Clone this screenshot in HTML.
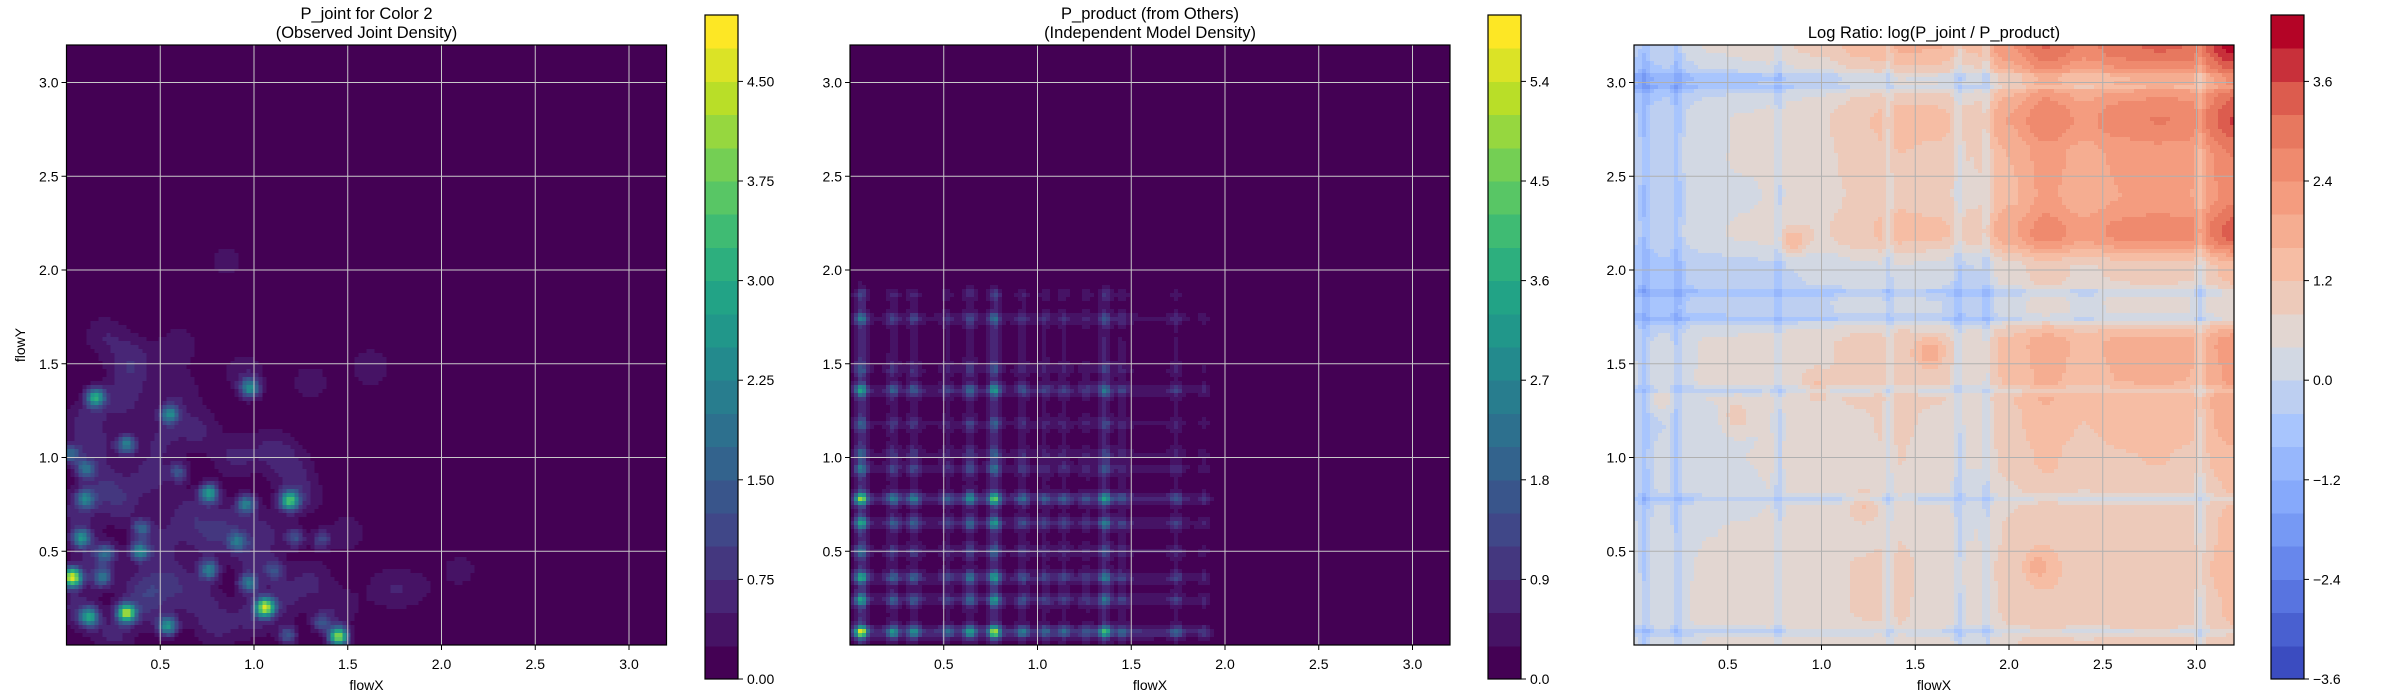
<!DOCTYPE html>
<html><head><meta charset="utf-8">
<style>
html,body{margin:0;padding:0;background:#fff;}
svg{display:block;font-family:"Liberation Sans",sans-serif;}
</style></head>
<body>
<svg id="fig" width="2400" height="700" viewBox="0 0 2400 700" xmlns="http://www.w3.org/2000/svg"></svg>
<script>
// ---------- data ----------
const axisTicks = [0.5, 1.0, 1.5, 2.0, 2.5, 3.0];
const axisTickLabels = ["0.5", "1.0", "1.5", "2.0", "2.5", "3.0"];
// panel 1 strong peaks: x, y, peak
const jointPeakX = [0.03,0.32,1.06,1.45,1.19,0.76,0.155,0.98,0.55,0.32,0.08,0.12,0.54,0.39,0.76,0.97,0.96,0.10,0.10,0.02,0.91,0.60,0.19,0.21,0.40,1.18,1.36,1.22,1.36,1.11];
const jointPeakY = [0.36,0.17,0.20,0.045,0.77,0.81,1.32,1.37,1.23,1.07,0.57,0.15,0.10,0.50,0.40,0.33,0.75,0.78,0.94,1.02,0.55,0.92,0.36,0.49,0.62,0.05,0.12,0.57,0.56,0.40];
const jointPeakV = [4.6,4.0,4.1,4.1,3.1,2.6,2.8,2.3,2.1,2.0,2.3,2.6,2.4,2.2,2.0,1.8,2.0,1.8,1.6,1.6,1.6,1.2,1.6,1.4,1.4,1.3,1.2,1.2,1.0,1.0];
// panel 1 diffuse background blobs
const jointBgX = [0.2,0.35,0.6,0.95,1.3,1.62,0.85,2.1,1.7,1.85,0.1,0.3,0.5,0.7,0.9,1.1,0.2,0.45,0.65,0.85,1.05,1.25,0.15,0.4,0.7,1.0,1.3,0.25,0.55,0.8,1.15,1.45,0.6,0.3,1.5,0.05,0.05,0.35,0.75,1.2,0.15,0.5,1.0,0.45];
const jointBgY = [1.65,1.55,1.6,1.45,1.4,1.48,2.05,0.4,0.3,0.3,1.2,1.3,1.1,1.15,1.0,1.05,0.85,0.9,0.7,0.65,0.6,0.8,0.45,0.3,0.25,0.15,0.35,0.05,0.35,0.1,0.25,0.2,1.35,0.75,0.6,0.7,0.2,1.45,0.55,0.95,1.05,0.55,0.45,0.2];
const jointBgV = [0.45,0.4,0.4,0.45,0.4,0.45,0.35,0.35,0.4,0.35,0.55,0.55,0.5,0.55,0.55,0.5,0.6,0.6,0.6,0.55,0.55,0.55,0.6,0.6,0.6,0.55,0.5,0.55,0.6,0.55,0.5,0.45,0.45,0.55,0.4,0.55,0.55,0.45,0.5,0.45,0.5,0.5,0.5,0.5];
// panel 2 marginals
const margXPos = [0.06,0.23,0.34,0.52,0.64,0.77,0.92,1.04,1.14,1.26,1.36,1.45,1.74,1.89];
const margXW   = [1.0,0.45,0.45,0.25,0.55,0.9,0.35,0.25,0.25,0.2,0.65,0.25,0.25,0.15];
const margYPos = [0.07,0.24,0.36,0.50,0.65,0.78,0.94,1.02,1.18,1.36,1.47,1.74,1.87];
const margYW   = [1.0,0.55,0.6,0.3,0.55,0.85,0.35,0.25,0.25,0.55,0.2,0.35,0.18];
// panel 3 log-ratio components sampled every 0.2 from 0 to 3.2
const ratioColBase = [-0.1,0,0.2,0.2,0.3,0.3,0.4,0.4,0.2,0,0.3,0.5,0.3,0.4,0.4,0.3,0.5];
const ratioRowBase = [0.3,0.4,0.4,0.3,0.2,0.3,0.3,0.5,0.5,-0.3,-0.2,0.6,0.4,0.5,0.6,0.1,0.8];
const ratioColTrend = [-0.6,-0.5,-0.35,-0.25,-0.2,-0.1,0.1,0.3,0.4,0.3,0.8,1.2,1.0,1.2,1.3,1.3,1.8];
const ratioRowTrend = [0.2,0.2,0.3,0.3,0.3,0.4,0.6,0.6,0.7,0.3,0.6,1.3,1.0,1.0,1.4,1.3,1.6];
const ratioBlueX = [0.06,0.23,0.77,1.36,1.73,1.88,3.02];
const ratioBlueY = [0.07,0.78,1.36,1.74,1.88,2.98,3.03];
const ratioBumpX = [1.58,0.85,0.15,0.55,2.15,1.22,0.98];
const ratioBumpY = [1.56,2.15,1.32,1.22,0.42,0.75,1.38];
const ratioBumpV = [1.0,1.0,0.7,0.8,0.6,0.6,0.6];
const cbTicks1 = [0,0.75,1.5,2.25,3.0,3.75,4.5];
const cbLabels1 = ["0.00","0.75","1.50","2.25","3.00","3.75","4.50"];
const cbTicks2 = [0,0.9,1.8,2.7,3.6,4.5,5.4];
const cbLabels2 = ["0.0","0.9","1.8","2.7","3.6","4.5","5.4"];
const cbTicks3 = [-3.6,-2.4,-1.2,0,1.2,2.4,3.6];
const cbLabels3 = ["\u22123.6","\u22122.4","\u22121.2","0.0","1.2","2.4","3.6"];

// ---------- helpers ----------
const NS = "http://www.w3.org/2000/svg";
const svg = document.getElementById('fig');
function mk(tag, attrs, parent){const e=document.createElementNS(NS,tag);for(const k in attrs)e.setAttribute(k,attrs[k]);(parent||svg).appendChild(e);return e;}
function hex(h){return [parseInt(h.substr(1,2),16),parseInt(h.substr(3,2),16),parseInt(h.substr(5,2),16)];}
function ramp(stops,t){t=Math.max(0,Math.min(1,t));const n=stops.length-1;const i=Math.min(n-1,Math.floor(t*n));const f=t*n-i;const a=hex(stops[i]),b=hex(stops[i+1]);return 'rgb('+a.map((v,k)=>Math.round(v+(b[k]-v)*f)).join(',')+')';}
const viridis=["#440154","#482475","#414487","#355f8d","#2a788e","#21918c","#22a884","#44bf70","#7ad151","#bddf26","#fde725"];
const coolwarm=["#3b4cc0","#5d7ce6","#82a6fb","#aac7fd","#dddcdc","#f6bfa6","#f4987a","#e36c55","#b40426"];
function g(d,s){return Math.exp(-d*d/(2*s*s));}
function interp(arr,v){const p=v/0.2;let i=Math.floor(p);if(i<0)return arr[0];if(i>=arr.length-1)return arr[arr.length-1];const f=p-i;const w=(1-Math.cos(Math.PI*f))/2;return arr[i]*(1-w)+arr[i+1]*w;}

const XMIN=0, XMAX=3.2, YMIN=0, YMAX=3.2;
const AX_TOP=45, AX_SIZE=600;
const panels=[
 {left:66.5, cb:705, name:'joint', stops:viridis, vmin:0, vmax:5.0, ticks:cbTicks1, labels:cbLabels1, title:["P_joint for Color 2","(Observed Joint Density)"], grid:"#c8c8c8", ylabel:true},
 {left:850, cb:1488, name:'product', stops:viridis, vmin:0, vmax:6.0, ticks:cbTicks2, labels:cbLabels2, title:["P_product (from Others)","(Independent Model Density)"], grid:"#c8c8c8", ylabel:false},
 {left:1634, cb:2271, name:'log-ratio', stops:coolwarm, vmin:-3.6, vmax:4.4, ticks:cbTicks3, labels:cbLabels3, title:["Log Ratio: log(P_joint / P_product)"], grid:"#b0b0b0", ylabel:false}
];

function fJoint(x,y){let v=0;for(let i=0;i<jointPeakX.length;i++){v+=jointPeakV[i]*g(Math.hypot(x-jointPeakX[i],y-jointPeakY[i]),0.035);}for(let i=0;i<jointBgX.length;i++){v+=jointBgV[i]*g(Math.hypot(x-jointBgX[i],y-jointBgY[i]),0.085);}return v;}
function marg(pos,w,v){let s=0;for(let i=0;i<pos.length;i++)s+=w[i]*g(v-pos[i],0.022);s+=0.18*(v<1.5?1:g(v-1.5,0.2))+0.08*g(v-1.8,0.12);return s;}
const mxMax=Math.max(...Array.from({length:321},(_,i)=>marg(margXPos,margXW,i/100)));
const myMax=Math.max(...Array.from({length:321},(_,i)=>marg(margYPos,margYW,i/100)));
function fProduct(x,y){return 5.9*marg(margXPos,margXW,x)/mxMax*marg(margYPos,margYW,y)/myMax;}
function lines(pos,v){let s=0;for(const p of pos)s+=g(v-p,0.016);return s;}
function fRatio(x,y){let v=interp(ratioColBase,x)+interp(ratioRowBase,y)+interp(ratioColTrend,x)*interp(ratioRowTrend,y);v-=0.6*lines(ratioBlueX,x)+0.6*lines(ratioBlueY,y);for(let i=0;i<ratioBumpX.length;i++)v+=ratioBumpV[i]*g(Math.hypot(x-ratioBumpX[i],y-ratioBumpY[i]),0.05);return v;}
const fields=[fJoint,fProduct,fRatio];

panels.forEach((P,pi)=>{
 const xs=v=>P.left+(v-XMIN)/(XMAX-XMIN)*AX_SIZE;
 const ys=v=>AX_TOP+AX_SIZE-(v-YMIN)/(YMAX-YMIN)*AX_SIZE;
 const grp=mk('g',{});
 
 
 const heat=mk('g',{'shape-rendering':'crispEdges'},grp);
 
 
 const N=150, cs=AX_SIZE/N, step=(P.vmax-P.vmin)/20;
 const colorOf=b=>ramp(P.stops,b/19);
 for(let j=0;j<N;j++){
  const yv=YMAX-(j+0.5)/N*(YMAX-YMIN);
  let runStart=0, runBand=-1;
  for(let i=0;i<=N;i++){
   let band=-2;
   if(i<N){const xv=XMIN+(i+0.5)/N*(XMAX-XMIN);band=Math.max(0,Math.min(19,Math.floor((fields[pi](xv,yv)-P.vmin)/step)));}
   if(band!==runBand){
    if(runBand>=0){const r=mk('rect',{x:(P.left+runStart*cs).toFixed(2),y:(AX_TOP+j*cs).toFixed(2),width:((i-runStart)*cs+0.6).toFixed(2),height:(cs+0.6).toFixed(2),fill:colorOf(runBand)},heat);
     
     }
    runStart=i;runBand=band;
   }
  }
 }
 // grid
 axisTicks.forEach((t,k)=>{
  const gx=mk('line',{x1:xs(t),x2:xs(t),y1:AX_TOP,y2:AX_TOP+AX_SIZE,stroke:P.grid,'stroke-width':1},grp);
  
  
  const gy=mk('line',{x1:P.left,x2:P.left+AX_SIZE,y1:ys(t),y2:ys(t),stroke:P.grid,'stroke-width':1},grp);
  
  
  mk('line',{x1:xs(t),x2:xs(t),y1:AX_TOP+AX_SIZE,y2:AX_TOP+AX_SIZE+5,stroke:'#000'},grp);
  const tx=mk('text',{x:xs(t),y:AX_TOP+AX_SIZE+24,'font-size':14,'text-anchor':'middle',fill:'#000'},grp);
  tx.textContent=axisTickLabels[k];
  
  
  mk('line',{x1:P.left-5,x2:P.left,y1:ys(t),y2:ys(t),stroke:'#000'},grp);
  const ty=mk('text',{x:P.left-8,y:ys(t)+5,'font-size':14,'text-anchor':'end',fill:'#000'},grp);
  ty.textContent=axisTickLabels[k];
  
  
 });
 const fr=mk('rect',{x:P.left,y:AX_TOP,width:AX_SIZE,height:AX_SIZE,fill:'none',stroke:'#000','stroke-width':1.2},grp);
 
 
 const xl=mk('text',{x:P.left+AX_SIZE/2,y:690,'font-size':14,'text-anchor':'middle'},grp);
 xl.textContent='flowX';
 
 
 if(P.ylabel){const yl=mk('text',{x:0,y:0,'font-size':14,'text-anchor':'middle',transform:'translate(25,'+(AX_TOP+AX_SIZE/2)+') rotate(-90)'},grp);
  yl.textContent='flowY';
  
  }
 P.title.forEach((line,k)=>{
  const tt=mk('text',{x:P.left+AX_SIZE/2,y:(P.title.length===2?19+k*19:38),'font-size':16.5,'text-anchor':'middle'},grp);
  tt.textContent=line;
  
  
 });
 // colorbar
 const CB_TOP=15, CB_H=664, CB_W=33;
 const cbs=v=>CB_TOP+CB_H-(v-P.vmin)/(P.vmax-P.vmin)*CB_H;
 const cb=mk('g',{'shape-rendering':'crispEdges'},grp);
 
 
 for(let b=0;b<20;b++){
  const y1=cbs(P.vmin+(b+1)*step), y0=cbs(P.vmin+b*step);
  const r=mk('rect',{x:P.cb,y:y1,width:CB_W,height:y0-y1+0.5,fill:colorOf(b)},cb);
  
  
 }
 mk('rect',{x:P.cb,y:CB_TOP,width:CB_W,height:CB_H,fill:'none',stroke:'#000','stroke-width':1.2},grp);
 P.ticks.forEach((t,k)=>{
  mk('line',{x1:P.cb+CB_W,x2:P.cb+CB_W+5,y1:cbs(t),y2:cbs(t),stroke:'#000'},grp);
  const ct=mk('text',{x:P.cb+CB_W+9,y:cbs(t)+5,'font-size':14,fill:'#000'},grp);
  ct.textContent=P.labels[k];
  
  
 });
});
</script>
</body></html>
